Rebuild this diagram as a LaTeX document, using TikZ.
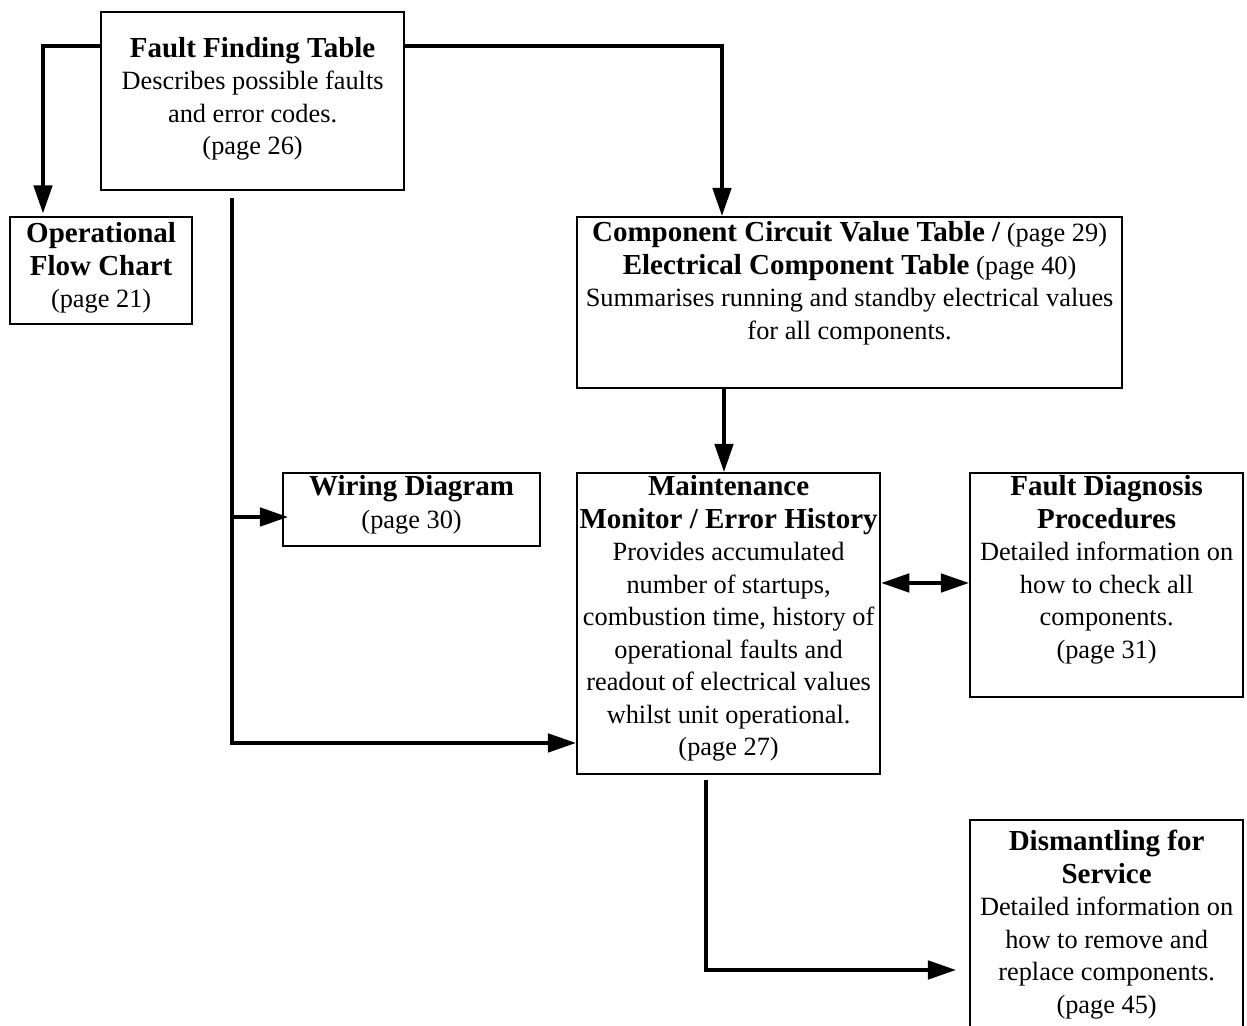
\documentclass[tikz,border=0pt]{standalone}
\usepackage{fontspec}
\setmainfont{Liberation Serif}
\usetikzlibrary{arrows.meta}
% bold heading inside a box
\newcommand{\ttl}[1]{{\fontsize{16.5}{18.5}\selectfont\bfseries #1}}
% box content: [top pad]{width}{height}{lines}
\newcommand{\boxtext}[4][0pt]{%
  \begin{minipage}[t][#3][t]{#2}\vspace*{#1}%
  \makebox[\linewidth]{\begin{tabular}{@{}c@{}}#4\end{tabular}}%
  \end{minipage}}
\begin{document}
\begin{tikzpicture}[x=0.02cm, y=-0.02cm,
    >={Triangle[length=16pt,width=10.5pt]},
    box/.style={draw, line width=1.3pt, inner sep=0pt, anchor=north west,
      font=\fontsize{15}{18.5}\selectfont},
    conn/.style={->, line width=2pt}]
    \clip (0,0) rectangle (1247,1025);

    % boxes
    \node[box] (fft) at (100,11) {\boxtext[0.45cm]{6.06cm}{3.56cm}{%
      \ttl{Fault Finding Table}\\ Describes possible faults\\
      and error codes.\\ (page 26)}};
    \node[box] (ofc) at (9,216) {\boxtext[0.06cm]{3.64cm}{2.14cm}{%
      \ttl{Operational}\\ \ttl{Flow Chart}\\ (page 21)}};
    \node[box] (ccv) at (576,216) {\boxtext[0.04cm]{10.9cm}{3.42cm}{%
      \ttl{Component Circuit Value Table /} (page 29)\\
      \ttl{Electrical Component Table} (page 40)\\
      Summarises running and standby electrical values\\
      for all components.}};
    \node[box] (wd) at (282,472) {\boxtext{5.14cm}{1.46cm}{%
      \ttl{Wiring Diagram}\\ (page 30)}};
    \node[box] (mm) at (576,472) {\boxtext{6.06cm}{6.02cm}{%
      \ttl{Maintenance}\\ \ttl{Monitor / Error History}\\
      Provides accumulated\\ number of startups,\\
      combustion time, history of\\ operational faults and\\
      readout of electrical values\\ whilst unit operational.\\
      (page 27)}};
    \node[box] (fdp) at (969,472) {\boxtext{5.46cm}{4.48cm}{%
      \ttl{Fault Diagnosis}\\ \ttl{Procedures}\\
      Detailed information on\\ how to check all\\
      components.\\ (page 31)}};
    \node[box] (dfs) at (969,819) {\boxtext[0.16cm]{5.46cm}{4.42cm}{%
      \ttl{Dismantling for}\\ \ttl{Service}\\
      Detailed information on\\ how to remove and\\
      replace components.\\ (page 45)}};

    % connectors
    \draw[conn, shorten >=1.5pt] ([yshift=-0.7cm]fft.north west)
      -| ([xshift=0.68cm]ofc.north west);
    \draw[conn] ([yshift=-0.7cm]fft.north east)
      -| ([xshift=2.92cm]ccv.north west);
    \coordinate (trunk) at ([xshift=2.64cm, yshift=-0.14cm]fft.south west);
    \draw[conn] (trunk) |- ([yshift=-5.42cm]mm.north west);
    \coordinate (wdin) at ([yshift=-0.9cm]wd.north west);
    \draw[conn, shorten >=-0.12cm] (trunk |- wdin) -- (wdin);
    \draw[conn] ([xshift=2.96cm]ccv.south west) -- ([xshift=2.96cm]mm.north west);
    \coordinate (mmr) at ([yshift=-2.22cm]mm.north east);
    \draw[conn, <->] (mmr) -- (mmr -| fdp.west);
    \coordinate (dfsin) at ([yshift=-3.02cm]dfs.north west);
    \draw[conn, shorten >=0.26cm] ([xshift=2.6cm, yshift=-0.1cm]mm.south west)
      |- (dfsin);
\end{tikzpicture}
\end{document}
